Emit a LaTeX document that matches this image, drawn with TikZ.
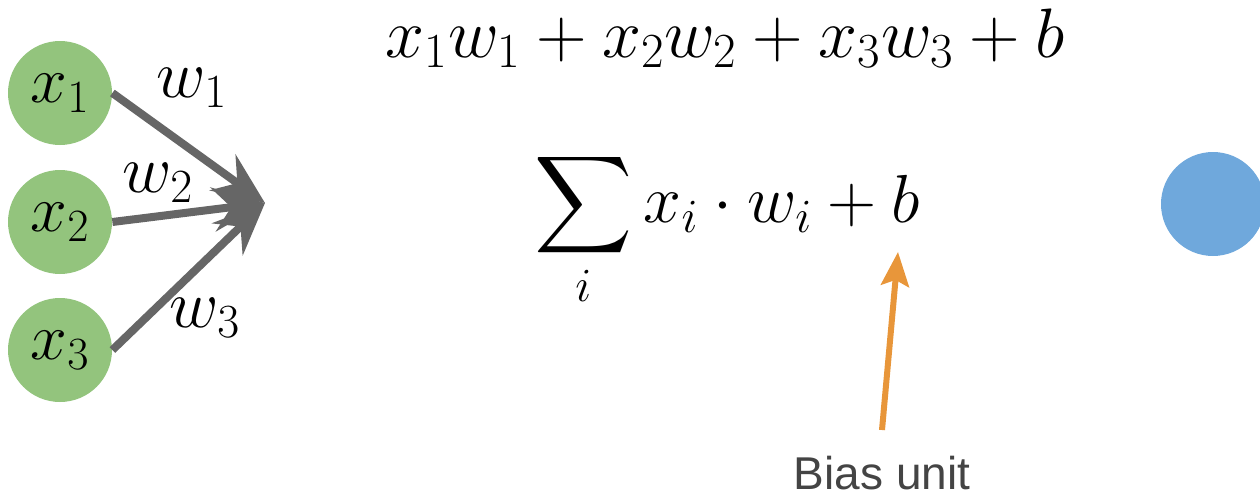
\RequirePackage{fix-cm}
\documentclass[tikz,border=0pt]{standalone}
\usepackage{amsmath}
\usepackage{fontspec}
\DeclareFontFamily{OMX}{cmex}{}
\DeclareFontShape{OMX}{cmex}{m}{n}{<->cmex10}{}
\newfontfamily\biasfont{Liberation Sans}
\usetikzlibrary{arrows.meta}
\definecolor{ingreen}{HTML}{93C47D}
\definecolor{outblue}{HTML}{6FA8DC}
\definecolor{arrgray}{HTML}{666666}
\definecolor{biasorange}{HTML}{E8963A}
\definecolor{textgray}{HTML}{444444}
\tikzset{
  input/.style={circle, fill=ingreen, minimum size=52pt, inner sep=0pt, font=\fontsize{33}{38}\selectfont},
  weight/.style={inner sep=0pt, font=\fontsize{34}{40}\selectfont},
  formula/.style={inner sep=0pt, anchor=base, font=\fontsize{35}{42}\selectfont},
  conn/.style={draw=arrgray, line width=4pt, -{Stealth[length=26pt, width=22pt, inset=9pt]}},
  biasarrow/.style={draw=biasorange, line width=3pt, -{Stealth[length=17pt, width=14pt, inset=3pt]}},
}
\begin{document}
\begin{tikzpicture}[x=0.5pt, y=-0.5pt]
  \useasboundingbox (0,0) rectangle (1260,498);
  \node[input] (x1) at (60,93) {$x_1$};
  \node[input] (x2) at (60,222) {$x_2$};
  \node[input] (x3) at (60,350) {$x_3$};
  \coordinate (hub) at (265,203);
  \draw[conn] (x1.east) -- (hub);
  \draw[conn] (x2.east) -- (hub);
  \draw[conn] (x3.east) -- (hub);
  \node[weight] (w1) at (192,88) {$w_1$};
  \node[weight] (w2) at (158,183) {$w_2$};
  \node[weight] (w3) at (205,318) {$w_3$};
  \node[formula] (top) at (725,57) {$x_1w_1+x_2w_2+x_3w_3+b$};
  \node[formula, font=\fontsize{34}{41}\selectfont] (sum) at (727,222) {$\displaystyle\sum_i x_i\cdot w_i+b$};
  \node[circle, fill=outblue, minimum size=52pt, inner sep=0pt] (out) at (1213,204) {};
  \node[inner sep=0pt, text=textgray, font=\biasfont\fontsize{23}{28}\selectfont] (bias) at (882,473) {Bias unit};
  \coordinate (btip) at (898,252);
  \coordinate (bstart) at (882,430);
  \draw[biasarrow] (bstart) -- (btip);
\end{tikzpicture}
\end{document}
